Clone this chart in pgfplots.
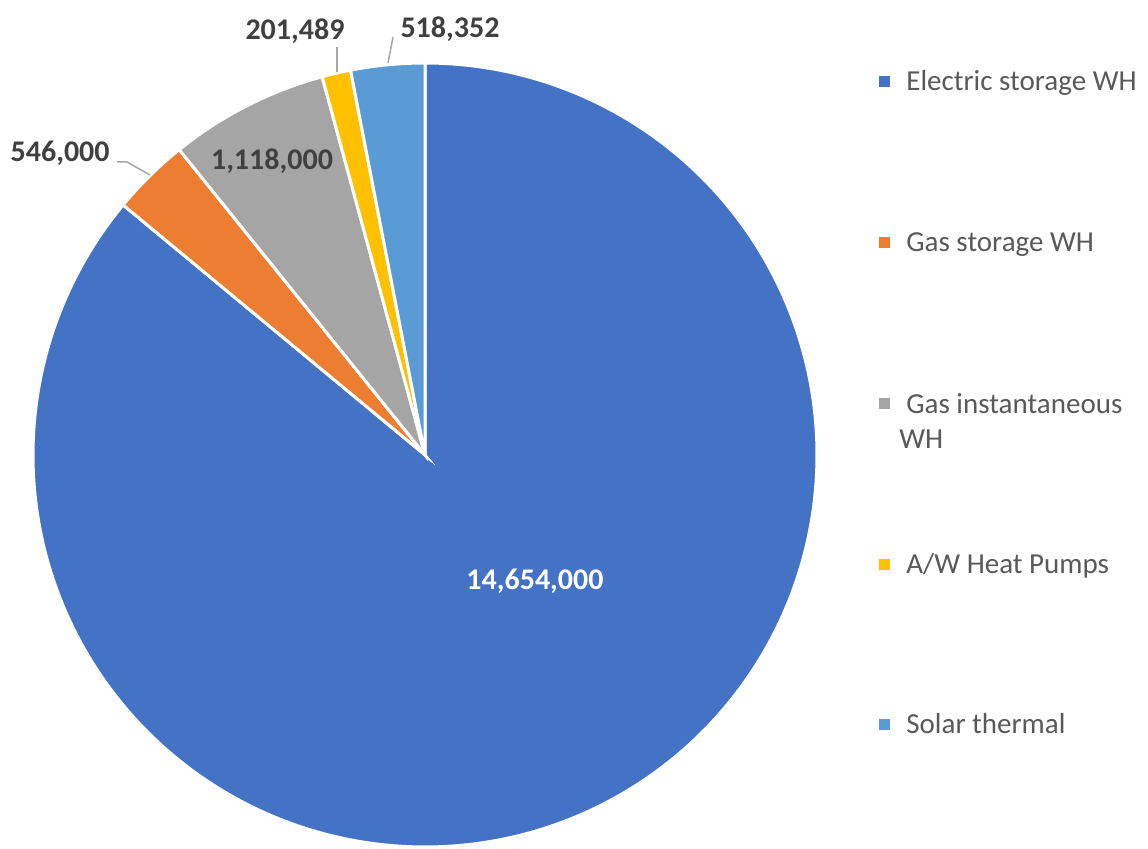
\documentclass[border=0pt]{standalone}
\usepackage{pgfplots}
\pgfplotsset{compat=1.18}
\usepackage{fontspec}
\setmainfont{Carlito}
\definecolor{cA}{HTML}{4472C4}
\definecolor{cB}{HTML}{ED7D31}
\definecolor{cC}{HTML}{A5A5A5}
\definecolor{cD}{HTML}{FFC000}
\definecolor{cE}{HTML}{5B9BD5}
\definecolor{lbl}{HTML}{404040}
\definecolor{leg}{HTML}{595959}
\definecolor{lead}{HTML}{A6A6A6}
% values in millions
\def\va{14.654}
\def\vb{0.546}
\def\vc{1.118}
\def\vd{0.201489}
\def\ve{0.518352}
\pgfmathsetmacro\tot{\va+\vb+\vc+\vd+\ve}
\pgfmathsetmacro\aA{90}
\pgfmathsetmacro\aB{\aA-360*\va/\tot}
\pgfmathsetmacro\aC{\aB-360*\vb/\tot+360}
\pgfmathsetmacro\aD{\aC-360*\vc/\tot}
\pgfmathsetmacro\aE{\aD-360*\vd/\tot}
\pgfmathsetmacro\aF{\aE-360*\ve/\tot}
\pgfmathsetmacro\aBB{\aB+360}
\begin{document}
\begin{tikzpicture}
\begin{axis}[x=0.5pt,y=0.5pt,xmin=0,xmax=1148,ymin=0,ymax=844,
  hide axis,clip=false,scale only axis]
\path (axis cs:0,0) rectangle (axis cs:1148,844);
\addplot[fill=cA,draw=white,line width=1.5pt,domain=\aB:\aA,samples=300,variable=\t]
  ({425+392*cos(\t)},{389+392*sin(\t)}) -- (axis cs:425,389) -- cycle;
\addplot[fill=cB,draw=white,line width=1.5pt,domain=\aC:\aBB,samples=30,variable=\t]
  ({425+392*cos(\t)},{389+392*sin(\t)}) -- (axis cs:425,389) -- cycle;
\addplot[fill=cC,draw=white,line width=1.5pt,domain=\aD:\aC,samples=40,variable=\t]
  ({425+392*cos(\t)},{389+392*sin(\t)}) -- (axis cs:425,389) -- cycle;
\addplot[fill=cD,draw=white,line width=1.5pt,domain=\aE:\aD,samples=10,variable=\t]
  ({425+392*cos(\t)},{389+392*sin(\t)}) -- (axis cs:425,389) -- cycle;
\addplot[fill=cE,draw=white,line width=1.5pt,domain=\aF:\aE,samples=30,variable=\t]
  ({425+392*cos(\t)},{389+392*sin(\t)}) -- (axis cs:425,389) -- cycle;
% leader lines
\draw[lead,line width=0.75pt] (axis cs:117,682) -- (axis cs:127,682) -- (axis cs:150,669);
\draw[lead,line width=0.75pt] (axis cs:337,797) -- (axis cs:337,772);
\draw[lead,line width=0.75pt] (axis cs:393,807) -- (axis cs:388,781);
% data labels
\begin{scope}[font=\fontsize{15}{18}\selectfont\bfseries,inner sep=0pt]
\node[lbl,anchor=base east] at (axis cs:110,682.5) {546,000};
\node[lbl,anchor=base] at (axis cs:295,804.5) {201,489};
\node[lbl,anchor=base] at (axis cs:450,806.5) {518,352};
\node[lbl,anchor=base] at (axis cs:272,674.5) {1,118,000};
\node[white,anchor=base] at (axis cs:535,254.5) {14,654,000};
\end{scope}
% legend
\begin{scope}[font=\fontsize{14.5}{17}\selectfont,inner sep=0pt]
\fill[cA] (axis cs:878.5,756.5) rectangle (axis cs:889.5,767.5);
\fill[cB] (axis cs:878.5,595.5) rectangle (axis cs:889.5,606.5);
\fill[cC] (axis cs:878.5,434.5) rectangle (axis cs:889.5,445.5);
\fill[cD] (axis cs:878.5,273.5) rectangle (axis cs:889.5,284.5);
\fill[cE] (axis cs:878.5,113.5) rectangle (axis cs:889.5,124.5);
\node[leg,anchor=base west] at (axis cs:906,753) {Electric storage WH};
\node[leg,anchor=base west] at (axis cs:906,592) {Gas storage WH};
\node[leg,anchor=base west] at (axis cs:906,430) {Gas instantaneous};
\node[leg,anchor=base west] at (axis cs:899,395) {WH};
\node[leg,anchor=base west] at (axis cs:906,270) {A/W Heat Pumps};
\node[leg,anchor=base west] at (axis cs:906,110) {Solar thermal};
\end{scope}
\end{axis}
\end{tikzpicture}
\end{document}
